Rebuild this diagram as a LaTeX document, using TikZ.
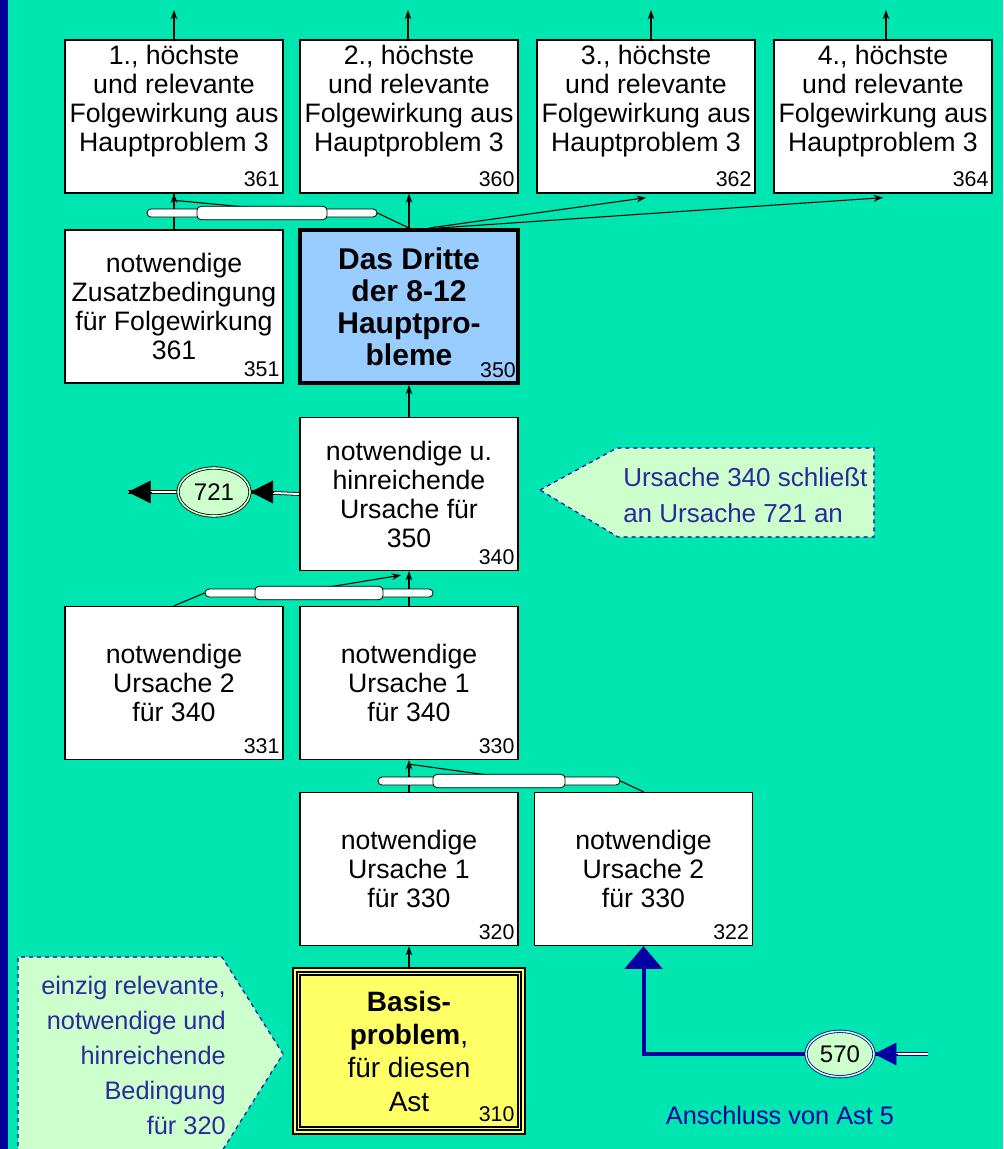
\documentclass[tikz,border=0pt]{standalone}
\usepackage{fontspec}
\setmainfont{Liberation Sans}
\usetikzlibrary{arrows.meta, positioning, calc, shapes.geometric}
\definecolor{bgGreen}   {HTML}{00E6B0}
\definecolor{stripBlue} {HTML}{000099}
\definecolor{coreBack}  {HTML}{99CCFF}
\definecolor{baseBack}  {HTML}{FFFF66}
\definecolor{noteBack}  {HTML}{CCFFCC}
\definecolor{noteInk}   {HTML}{2A2A9E}
\definecolor{linkBlue}  {HTML}{0000A0}
\pgfdeclarelayer{bg}
\pgfdeclarelayer{conn}
\pgfsetlayers{bg,conn,main}
\tikzset{
    box/.style={rectangle, draw, fill=white, line width=1pt, inner sep=0pt,
                minimum width=163.5pt, minimum height=114.75pt, align=center,
                font=\fontsize{20}{21.75}\selectfont},
    corebox/.style={box, fill=coreBack, line width=3pt,
                font=\bfseries\fontsize{22.5}{24}\selectfont},
    basebox/.style={box, fill=baseBack, minimum width=171pt, minimum height=121.5pt,
                line width=1.5pt, double=baseBack, double distance=1.5pt,
                font=\fontsize{21}{25}\selectfont},
    num/.style={anchor=south east, inner sep=0pt, xshift=-3pt, yshift=5pt,
                font=\fontsize{16}{16}\selectfont},
    jthin/.style={rectangle, rounded corners=3pt, draw, fill=white, line width=0.6pt,
                minimum height=6pt, inner sep=0pt},
    jthick/.style={jthin, minimum height=10pt},
    link/.style={ellipse, draw, fill=noteBack, line width=0.6pt, double=noteBack,
                double distance=1.2pt, inner sep=0pt, font=\fontsize{18}{18}\selectfont},
    note/.style={draw=linkBlue, fill=noteBack, dashed, line width=0.8pt},
    notetext/.style={inner sep=0pt, text=noteInk},
    arr/.style={-{Stealth[length=7pt,width=5pt]}, line width=0.8pt},
    ln/.style={line width=0.8pt},
    dblblack/.style={line width=0.6pt, double=white, double distance=1.5pt},
    dblblue/.style={draw=linkBlue, line width=0.6pt, double=white, double distance=1.5pt},
    bigtip/.style={-{Triangle[length=17pt,width=17pt]}, line width=0.6pt},
    bluetip/.style={-{Triangle[length=16.5pt,width=17pt]}, linkBlue, line width=0.6pt},
    bluethick/.style={-{Triangle[length=17pt,width=28pt]}, linkBlue, line width=3pt},
}
\begin{document}
\begin{tikzpicture}[x=0.75pt, y=-0.75pt]
    \useasboundingbox (0,0) rectangle (1003,1149);
    \begin{pgfonlayer}{bg}
        \fill[bgGreen] (0,0) rectangle (1003,1149);
        \fill[stripBlue] (0,0) rectangle (8,1149);
    \end{pgfonlayer}

    % consequences
    \node[box, label={[num]south east:361}] (b361) at (174,116.5)
        {1., höchste\\und relevante\\Folgewirkung aus\\Hauptproblem 3\\[6pt]\mbox{}};
    \node[box, label={[num]south east:360}] (b360) at (409,116.5)
        {2., höchste\\und relevante\\Folgewirkung aus\\Hauptproblem 3\\[6pt]\mbox{}};
    \node[box, label={[num]south east:362}] (b362) at (646,116.5)
        {3., höchste\\und relevante\\Folgewirkung aus\\Hauptproblem 3\\[6pt]\mbox{}};
    \node[box, label={[num]south east:364}] (b364) at (883,116.5)
        {4., höchste\\und relevante\\Folgewirkung aus\\Hauptproblem 3\\[6pt]\mbox{}};
    \coordinate (up361) at (174,10);
    \coordinate (up360) at (408,10);
    \coordinate (up362) at (651,10);
    \coordinate (up364) at (886,10);

    % main problem
    \node[box, label={[num]south east:351}] (b351) at (174,306.5)
        {notwendige\\Zusatzbedingung\\für Folgewirkung\\361};
    \node[corebox, label={[num, font=\fontsize{16}{16}\selectfont]south east:350}] (b350) at (409,306.5)
        {Das Dritte\\der 8-12\\Hauptpro-\\bleme};
    \node[box, label={[num]south east:340}] (b340) at (409,494)
        {notwendige u.\\hinreichende\\Ursache für\\350};
    \node[box, label={[num]south east:331}] (b331) at (174,683)
        {notwendige\\Ursache 2\\für 340};
    \node[box, label={[num]south east:330}] (b330) at (409,683)
        {notwendige\\Ursache 1\\für 340};
    \node[box, label={[num]south east:320}] (b320) at (409,869)
        {notwendige\\Ursache 1\\für 330};
    \node[box, label={[num]south east:322}] (b322) at (643.5,869)
        {notwendige\\Ursache 2\\für 330};
    \node[basebox, label={[num, xshift=-4pt, yshift=3pt]south east:310}] (b310) at (409,1051)
        {\textbf{Basis-}\\\textbf{problem},\\für diesen\\Ast};
    \draw[line width=0.8pt] ([shift={(6,6)}]b310.north west) rectangle ([shift={(-6,-6)}]b310.south east);

    % join bars
    \node[jthin, minimum width=172.5pt] (j36) at (262,213) {};
    \node[jthick, minimum width=97.5pt] (j36m) at (262,213) {};
    \node[jthin, minimum width=171pt] (j34) at (319,593) {};
    \node[jthick, minimum width=96pt] (j34m) at (319,593) {};
    \node[jthin, minimum width=181.5pt] (j33) at (499,781) {};
    \node[jthick, minimum width=99pt] (j33m) at (499,781) {};

    % links to other branches
    \node[link, minimum width=54pt, minimum height=36pt] (e721) at (214,492) {721};
    \coordinate (out721) at (128,492);
    \node[link, draw=linkBlue, minimum width=51pt, minimum height=34pt] (e570) at (840,1054) {570};
    \coordinate (in570) at (928,1054);
    \node[text=linkBlue, inner sep=0pt, font=\fontsize{19}{19}\selectfont] (l570) at (780,1115)
        {Anschluss von Ast 5};

    % notes
    \draw[note] (540,490) -- (617,448) -- (874,448) -- (874,537) -- (618,537) -- cycle;
    \node[notetext, anchor=west, align=left, font=\fontsize{19.5}{27}\selectfont] (n340) at (623,495)
        {Ursache 340 schließt\\an Ursache 721 an};
    \draw[note] (18,1170) -- (18,957) -- (222,957) -- (283,1054) -- (210,1170) -- cycle;
    \node[notetext, anchor=east, align=right, font=\fontsize{19}{26.25}\selectfont] (n320) at (226,1055)
        {einzig relevante,\\notwendige und\\hinreichende\\Bedingung\\für 320};

    \begin{pgfonlayer}{conn}
        \draw[arr] (up361 |- b361.north) -- (up361);
        \draw[arr] (up360 |- b360.north) -- (up360);
        \draw[arr] (up362 |- b362.north) -- (up362);
        \draw[arr] (up364 |- b364.north) -- (up364);
        % 350 to its consequences
        \draw[ln] (b351.north) -- (b361.south);
        \draw[ln] (b350.north) -- (j36.east);
        \draw[arr] (j36.north) -- ([yshift=-5pt]b361.south) -- (b361.south);
        \draw[arr] (b350.north) -- (b360.south);
        \draw[arr] ([xshift=15pt]b350.north) -- ([yshift=-3pt]b362.south);
        \draw[arr] ([xshift=22pt]b350.north) -- ([yshift=-3pt]b364.south);
        % causes
        \draw[arr] (b340.north) -- (b350.south);
        \draw[ln] (b331.north) -- (j34.west);
        \draw[arr] (b330.north) -- (b340.south);
        \draw[arr] (j34.north) -- ([xshift=-6pt, yshift=-3pt]b340.south);
        \draw[arr] (b320.north) -- (b330.south);
        \draw[ln] (b322.north) -- (j33.east);
        \draw[ln] (j33.north) -- ([yshift=-3pt]b330.south);
        \draw[arr] (b310.north) -- (b320.south);
        % 721
        \draw[dblblack] (b340.west) -- (e721.east);
        \draw[bigtip] ([xshift=18pt]e721.east) -- (e721.east);
        \draw[dblblack] (e721.west) -- (out721);
        \draw[bigtip] ([xshift=18pt]out721) -- (out721);
        % 570
        \draw[dblblue] (in570) -- (e570.east);
        \draw[bluetip] ([xshift=18pt]e570.east) -- (e570.east);
        \draw[bluethick] (e570.west) -| (b322.south);
    \end{pgfonlayer}
\end{tikzpicture}
\end{document}
